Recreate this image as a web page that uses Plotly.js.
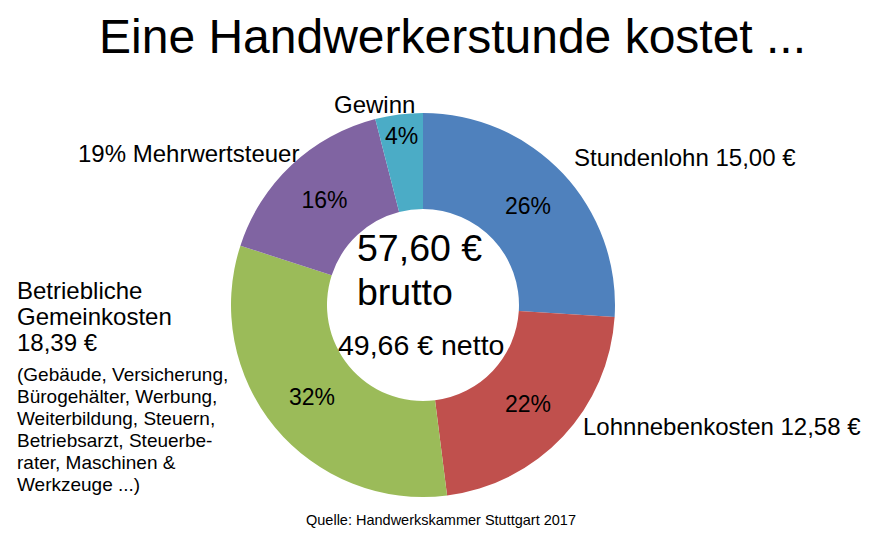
<!DOCTYPE html>
<html><head><meta charset="utf-8">
<script src="https://cdn.plot.ly/plotly-3.0.1.min.js"></script>
<style>html,body{margin:0;padding:0;background:#fff}#chart{width:875px;height:541px}</style>
</head><body><div id="chart"></div>
<script>
var categories = ["Stundenlohn", "Lohnnebenkosten", "Betriebliche Gemeinkosten", "19% Mehrwertsteuer", "Gewinn"];
var shares = [26, 22, 32, 16, 4];
var colors = ["#4F81BD", "#C0504D", "#9BBB59", "#8064A2", "#4BACC6"];
var titleText = "Eine Handwerkerstunde kostet ...";
var bruttoLines = ["57,60 €", "brutto"];
var nettoText = "49,66 € netto";
var gemeinLines = ["Betriebliche", "Gemeinkosten", "18,39 €"];
var detailLines = ["(Gebäude, Versicherung,", "Bürogehälter, Werbung,", "Weiterbildung, Steuern,", "Betriebsarzt, Steuerbe-", "rater, Maschinen &", "Werkzeuge ...)"];
var sourceText = "Quelle: Handwerkskammer Stuttgart 2017";

var W = 875, H = 541;
function px(x){return x/W;}
function py(y){return 1 - y/H;}
var F = "Liberation Sans, Arial, sans-serif";

var trace = {
  type: "pie",
  labels: categories,
  values: shares,
  sort: false,
  direction: "clockwise",
  rotation: 0,
  hole: 0.5,
  marker: {colors: colors, line: {width: 0}},
  texttemplate: "%{value}%",
  textposition: "inside",
  insidetextorientation: "horizontal",
  textfont: {family: F, size: 23, color: "#000"},
  domain: {x: [px(231), px(615)], y: [py(497), py(113)]},
  showlegend: false,
  hoverinfo: "label+value"
};

function ann(text, x, y, size, xanchor, align){
  return {text: text, x: px(x), y: py(y), xref: "paper", yref: "paper",
    xanchor: xanchor || "left", yanchor: "middle", align: align || "left",
    showarrow: false, font: {family: F, size: size, color: "#000"}};
}

var annotations = [
  ann(titleText, 452, 37, 48, "center", "center"),
  ann("Gewinn", 332, 104, 24),
  ann("Stundenlohn 15,00 €", 572, 158, 24),
  ann("19% Mehrwertsteuer", 76, 153, 24),
  ann("Lohnnebenkosten 12,58 €", 581, 426, 24),
  ann(nettoText, 421, 345, 28.5, "center", "center"),
  ann(sourceText, 441, 520, 14.5, "center", "center")
];
gemeinLines.forEach(function(t, i){ annotations.push(ann(t, 15, 290 + 26 * i, 24)); });
detailLines.forEach(function(t, i){ annotations.push(ann(t, 15, 374 + 22 * i, 19)); });
bruttoLines.forEach(function(t, i){ annotations.push(ann(t, 355, 248 + 44 * i, 37.5)); });

var layout = {
  width: W, height: H,
  margin: {l: 0, r: 0, t: 0, b: 0},
  paper_bgcolor: "#fff",
  annotations: annotations
};

Plotly.newPlot("chart", [trace], layout, {displayModeBar: false, staticPlot: true});
</script></body></html>
